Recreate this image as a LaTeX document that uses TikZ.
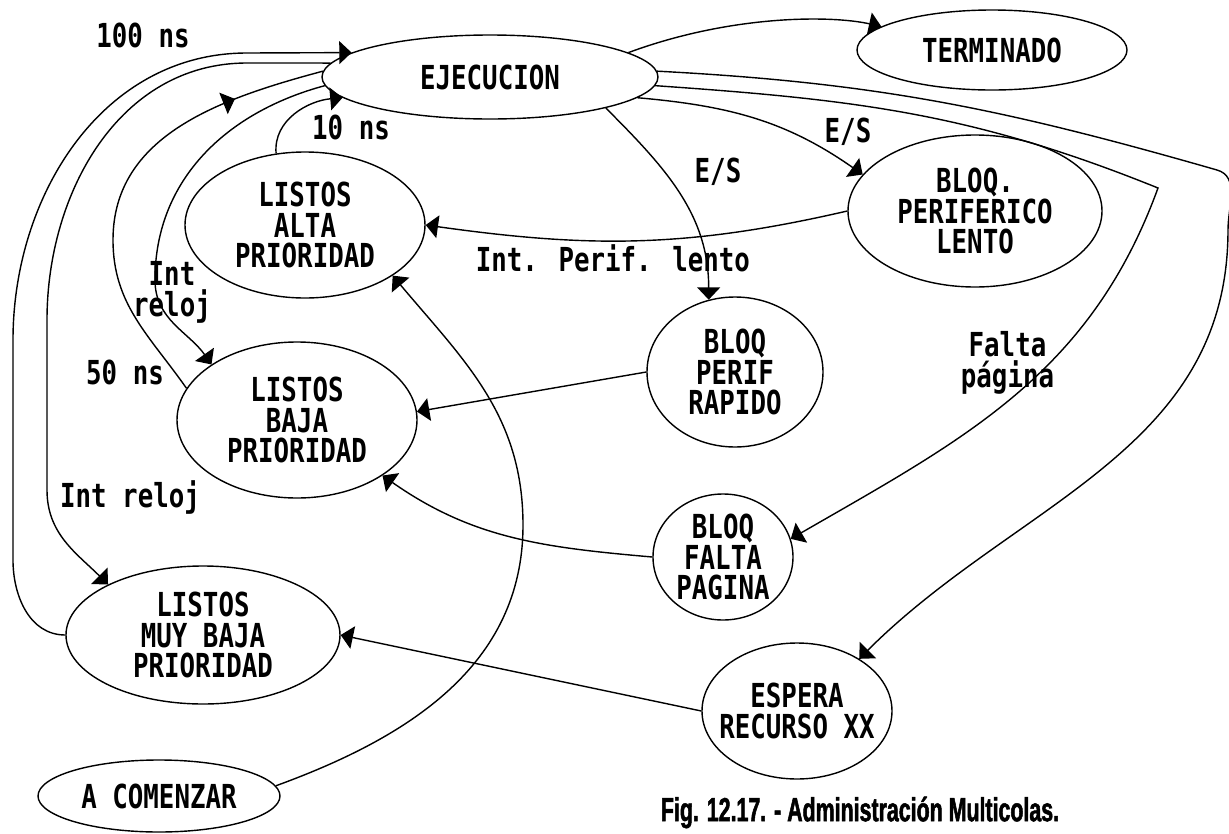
\documentclass[tikz,border=0pt]{standalone}
\usepackage{fontspec}
\usepackage{tikz}
\usetikzlibrary{shapes.geometric, arrows.meta, decorations.markings}

\newfontfamily\pixfont[FakeStretch=0.78]{DejaVu Sans Mono}
\newfontfamily\capfont[FakeStretch=0.64, FakeBold=1.5]{Liberation Sans Bold}

\begin{document}
\begin{tikzpicture}[
    >={Triangle[length=7pt, width=13pt]},
    estado/.style={ellipse, draw, line width=0.8pt, inner sep=0pt, align=center, font=\pixfont\bfseries\fontsize{18.8}{17.6}\selectfont},
    tag/.style={inner sep=0pt, align=center, font=\pixfont\bfseries\fontsize{18.8}{17.6}\selectfont},
    link/.style={->, line width=0.8pt},
    midarrow/.style={line width=0.8pt, postaction={decorate}, decoration={markings, mark=at position #1 with {\arrow{>}}}}
]
\path[use as bounding box, fill=white] (0,0) rectangle (24.58,-16.68);

% Estados
\node[estado, minimum width=6.72cm, minimum height=1.68cm] (ejec) at (9.8,-1.54) {EJECUCION};
\node[estado, minimum width=5.4cm, minimum height=1.6cm] (term) at (19.84,-1.0) {TERMINADO};
\node[estado, minimum width=4.8cm, minimum height=2.92cm] (alta) at (6.1,-4.5) {LISTOS\\ALTA\\PRIORIDAD};
\node[estado, minimum width=5.08cm, minimum height=3.04cm] (lento) at (19.5,-4.22) {BLOQ.\\PERIFERICO\\LENTO};
\node[estado, minimum width=3.52cm, minimum height=3.0cm] (rapido) at (14.7,-7.44) {BLOQ\\PERIF\\RAPIDO};
\node[estado, minimum width=4.8cm, minimum height=3.12cm] (baja) at (5.94,-8.4) {LISTOS\\BAJA\\PRIORIDAD};
\node[estado, minimum width=2.8cm, minimum height=2.52cm] (falta) at (14.46,-11.14) {BLOQ\\FALTA\\PAGINA};
\node[estado, minimum width=5.48cm, minimum height=2.76cm] (muybaja) at (4.06,-12.7) {LISTOS\\MUY BAJA\\PRIORIDAD};
\node[estado, minimum width=3.8cm, minimum height=2.72cm, inner xsep=-12pt] (espera) at (15.94,-14.22) {ESPERA\\RECURSO XX};
\node[estado, minimum width=4.84cm, minimum height=1.44cm] (comenzar) at (3.18,-15.92) {A COMENZAR};

% Rotulos de las transiciones
\node[tag] (l100) at (2.86,-0.7) {100 ns};
\node[tag] (l10) at (7.02,-2.54) {10 ns};
\node[tag] (lreloja) at (3.44,-5.84) {Int\\reloj};
\node[tag] (l50) at (2.5,-7.44) {50 ns};
\node[tag] (lrelojb) at (2.6,-9.94) {Int reloj};
\node[tag] (lesr) at (14.36,-3.44) {E/S};
\node[tag] (lesl) at (16.96,-2.64) {E/S};
\node[tag] (lperif) at (12.26,-5.16) {Int. Perif. lento};
\node[tag] (lfalta) at (20.15,-7.25) {Falta\\página};

% Colas de listos <-> ejecucion
\draw[link] (muybaja.west) to[out=180,in=-90] (0.26,-11.2) -- (0.26,-6.8) to[out=90,in=180] (4.94,-1.06) -- (ejec.170);
\draw[link] (ejec.175) -- (4.94,-1.26) to[out=180,in=90] (0.94,-6.4) -- (0.94,-9.8) to[out=-90,in=135] (muybaja.152);
\draw[midarrow=0.8] (baja.164) to[out=125,in=-90] (2.26,-4.8) to[out=90,in=195] (ejec.178);
\draw[link] (ejec.183) to[out=195,in=90] (3.1,-5.6) to[out=-90,in=125] (baja.147);
\draw[link] (alta.112) to[out=95,in=185] (ejec.188);

% Salidas de ejecucion
\draw[link] (ejec.10) .. controls (14.6,-0.3) and (16.6,-0.3) .. (term.168);
\draw[link] (ejec.-8) to[out=-5,in=145] (lento.162);
\draw[link] (ejec.-15) to[out=-45,in=90] (rapido.110);
\draw[link] (ejec.-3) to[out=-4,in=158] (23.16,-3.76) to[out=-110,in=30] (falta.15);
\draw[link] (ejec.2) to[out=-3,in=164] (24.34,-3.4) to[out=-16,in=90] (24.56,-4.6) to[out=-90,in=45] (espera.40);

% Vuelta a las colas
\draw[link] (lento.west) to[out=193,in=-8] (alta.east);
\draw[link] (rapido.west) -- (baja.4);
\draw[link] (falta.west) to[out=175,in=-35] (baja.-33);
\draw[link] (espera.west) -- (muybaja.east);
\draw[link] (comenzar.5) to[out=20,in=-90] (10.46,-10.5) to[out=90,in=-50] (alta.-30);

\node[font=\capfont\fontsize{19}{22}\selectfont, inner sep=0pt] (titulo) at (17.2,-16.25) {Fig. 12.17. - Administración Multicolas.};
\end{tikzpicture}
\end{document}
